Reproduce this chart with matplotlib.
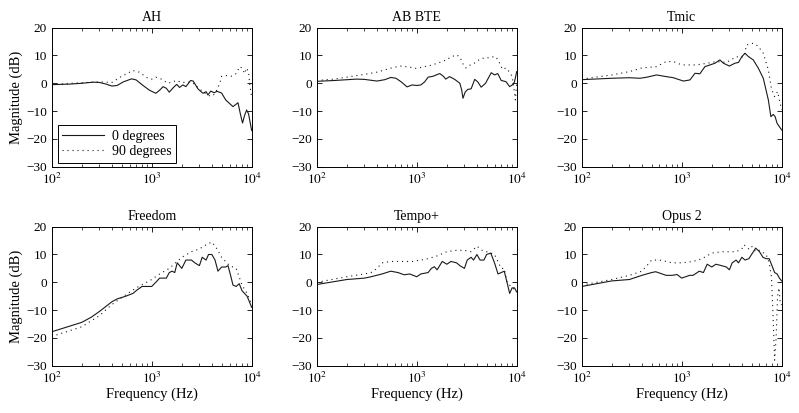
import matplotlib
matplotlib.use("Agg")
import matplotlib.pyplot as plt
from matplotlib.ticker import LogLocator, FixedLocator, NullFormatter

plt.rcParams['font.family'] = ['Liberation Serif', 'DejaVu Serif']
plt.rcParams['mathtext.fontset'] = 'stix'
plt.rcParams['font.size'] = 9.5

titles = ["AH", "AB BTE", "Tmic", "Freedom", "Tempo+", "Opus 2"]
legend_labels = ["0 degrees", "90 degrees"]
x_label = "Frequency (Hz)"
y_label = "Magnitude (dB)"
y_ticks = [-30, -20, -10, 0, 10, 20]
x_ticks = [100, 1000, 10000]
x_tick_labels = [r"$10^{2}$", r"$10^{3}$", r"$10^{4}$"]

# ---- AH ----
ah_f0 = [100, 150, 200, 260, 300, 350, 400, 450, 520, 630, 700, 800, 950, 1100, 1200, 1300,
         1400, 1500, 1650, 1780, 1900, 2050, 2200, 2450, 2600, 2900, 3250, 3500, 3650, 3900,
         4200, 4500, 5000, 5500, 6500, 7300, 7700, 8100, 8500, 8900, 9300, 9700, 10000]
ah_m0 = [-0.5, -0.3, 0.0, 0.4, 0.3, -0.3, -1.0, -0.8, 0.5, 1.6, 1.2, -0.5, -2.5, -3.6, -2.5, -1.2,
         -1.8, -3.2, -1.5, -0.4, -1.5, -0.6, -1.2, 1.0, 0.8, -2.0, -3.6, -3.0, -4.2, -2.8,
         -3.4, -2.9, -3.5, -6.0, -8.4, -7.0, -11.0, -14.3, -11.5, -9.6, -11.0, -14.5, -17.0]
ah_f90 = [100, 200, 300, 400, 500, 650, 750, 900, 1000, 1100, 1250, 1450, 1600, 1800, 2000,
          2300, 2600, 3000, 3400, 3800, 4100, 4400, 4800, 5000, 5500, 6200, 7000, 7600, 8000,
          8500, 8900, 9300, 9600, 10000]
ah_m90 = [-0.4, 0.2, 0.5, 0.3, 2.5, 4.6, 4.0, 2.0, 1.5, 2.2, 1.5, 0.0, 0.5, 1.0, 0.2,
          0.5, 0.0, -2.0, -3.5, -4.5, -4.5, -3.0, 0.0, 2.5, 2.8, 2.5, 3.5, 6.0, 5.5,
          3.5, 5.5, 4.0, -1.0, -5.0]

# ---- AB BTE ----
ab_f0 = [100, 150, 250, 300, 400, 480, 550, 620, 700, 800, 900, 1000, 1100, 1200, 1300, 1450,
         1700, 1850, 1950, 2130, 2400, 2700, 2820, 2900, 3050, 3240, 3500, 3800, 4080, 4410,
         4880, 5560, 6000, 6460, 7000, 7800, 8500, 9100, 9500, 10000]
ab_m0 = [0.7, 1.0, 1.5, 1.4, 0.8, 1.3, 2.1, 1.8, 0.5, -1.3, -0.6, -0.8, -0.6, 0.5, 2.2, 2.5,
         3.5, 2.5, 1.5, 2.4, 1.4, 0.0, -2.5, -5.4, -3.2, -2.2, -2.0, 1.4, 0.5, -1.4,
         0.0, 3.8, 3.0, 3.5, 1.0, 0.6, -1.2, -0.5, 0.5, 4.2]
ab_f90 = [100, 150, 200, 300, 400, 500, 600, 700, 850, 1000, 1200, 1400, 1700, 2000, 2200,
          2500, 2700, 2900, 3100, 3400, 3700, 4000, 4500, 5000, 5500, 6200, 6700, 7200, 7800,
          8500, 9000, 9400, 9700, 10000]
ab_m90 = [1.0, 1.5, 2.2, 3.2, 4.0, 5.0, 5.8, 6.2, 5.8, 5.3, 6.0, 6.5, 7.5, 8.5, 9.5,
          10.2, 9.5, 7.0, 5.5, 6.5, 7.0, 8.0, 9.0, 9.0, 9.5, 9.5, 7.5, 5.0, 5.5,
          4.0, 2.5, -2.0, -6.0, 0.0]

# ---- Tmic ----
tm_f0 = [100, 200, 300, 383, 450, 562, 700, 826, 1040, 1210, 1360, 1520, 1710, 1920, 2150,
         2410, 2620, 3000, 3400, 3700, 4000, 4300, 4650, 5200, 5850, 6550, 7360, 7800, 8250,
         8600, 9000, 10000]
tm_m0 = [1.3, 1.8, 2.0, 1.8, 2.2, 3.0, 2.4, 2.0, 0.8, 1.2, 3.6, 3.4, 6.0, 6.6, 7.2,
         8.4, 7.2, 6.2, 7.2, 7.5, 9.6, 10.8, 9.6, 8.4, 5.4, 1.8, -6.0, -12.0, -11.2,
         -12.0, -14.4, -16.8]
tm_f90 = [100, 200, 300, 400, 560, 700, 830, 1000, 1400, 1800, 2200, 2800, 3500, 4200, 4450,
          5200, 5800, 6550, 7360, 7900, 8500, 9100, 9500, 10000]
tm_m90 = [1.5, 3.0, 4.2, 5.5, 6.0, 7.8, 7.8, 6.6, 6.6, 7.2, 7.8, 7.5, 9.5, 9.5, 13.8,
          14.4, 13.4, 10.8, 4.8, -2.0, -4.8, -3.0, -6.0, -9.6]

# ---- Freedom ----
fr_f0 = [100, 200, 250, 300, 400, 450, 550, 650, 700, 800, 900, 1000, 1100, 1200, 1400, 1500,
         1600, 1700, 1800, 1900, 2000, 2200, 2500, 2700, 3000, 3200, 3500, 3700, 4000, 4300,
         4600, 5000, 5500, 5800, 6200, 6500, 7000, 7500, 8000, 9000, 10000]
fr_m0 = [-17.8, -14.4, -12.5, -10.5, -7.0, -6.0, -5.0, -4.0, -3.0, -1.5, -1.5, -1.5, 0.0, 1.5, 1.5, 3.5,
         4.0, 3.5, 7.0, 6.0, 5.0, 8.0, 8.0, 7.0, 6.0, 9.0, 8.0, 10.0, 10.0, 8.0,
         4.0, 5.5, 5.5, 6.0, 2.0, -1.0, -1.5, -0.5, -3.0, -5.0, -9.0]
fr_f90 = [100, 200, 300, 400, 500, 700, 1000, 1200, 1500, 2000, 2500, 3000, 3500, 4000, 4500,
          5000, 6000, 7000, 8000, 9000, 10000]
fr_m90 = [-19.5, -16.0, -12.0, -8.0, -5.5, -2.0, 1.0, 3.0, 5.0, 9.0, 11.0, 12.0, 13.5, 14.5, 12.0,
          9.0, 6.0, 5.0, -1.0, -4.0, -8.0]

# ---- Tempo+ ----
te_f0 = [100, 200, 300, 350, 450, 550, 650, 750, 850, 1000, 1100, 1300, 1400, 1500, 1600, 1800,
         2000, 2200, 2500, 2700, 3000, 3200, 3500, 3700, 4000, 4300, 4700, 5000, 5500, 6000,
         6500, 7000, 7500, 8000, 8500, 9000, 9500, 10000]
te_m0 = [-0.8, 1.0, 1.5, 2.0, 3.0, 4.0, 3.5, 2.7, 3.0, 2.0, 3.0, 3.5, 5.0, 5.6, 4.5, 7.5,
         6.5, 7.5, 7.0, 6.0, 5.0, 8.0, 9.0, 8.0, 10.0, 8.0, 8.0, 10.0, 10.5, 7.0,
         3.0, 3.5, 4.0, 0.0, -4.0, -2.0, -2.0, -3.5]
te_f90 = [100, 200, 300, 350, 400, 450, 550, 700, 900, 1100, 1300, 1600, 2000, 2500, 3000,
          3500, 4000, 4500, 5000, 6000, 7000, 7500, 8000, 9000, 10000]
te_m90 = [0.0, 2.0, 3.0, 3.5, 5.0, 7.0, 7.5, 7.5, 7.5, 8.0, 8.5, 9.5, 11.0, 11.5, 11.5,
          11.0, 13.0, 11.5, 11.0, 10.0, 5.0, 5.0, 0.0, -2.0, -3.0]

# ---- Opus 2 ----
op_f0 = [100, 200, 300, 400, 500, 550, 700, 800, 900, 1000, 1200, 1300, 1500, 1650, 1800, 2000,
         2200, 2500, 2800, 3000, 3200, 3500, 3700, 4000, 4300, 4700, 5000, 5500, 6000, 6500,
         7000, 7500, 8000, 8500, 9000, 9500, 10000]
op_m0 = [-1.5, 0.5, 1.0, 2.5, 3.5, 3.8, 2.5, 2.5, 2.8, 1.5, 2.5, 2.5, 4.0, 3.5, 6.5, 5.5,
         6.5, 6.0, 5.5, 4.5, 7.0, 8.0, 7.0, 9.0, 8.0, 8.5, 10.0, 12.3, 11.0, 9.0,
         8.5, 8.5, 6.0, 3.5, 3.0, 1.5, 0.5]
op_f90 = [100, 200, 300, 400, 450, 500, 600, 700, 800, 1000, 1300, 1600, 2000, 2500, 3000,
          3500, 4000, 4200, 4700, 5000, 5500, 6000, 7000, 7500, 7900, 8200, 8500, 8800, 9100,
          9400, 9700, 10000]
op_m90 = [-1.0, 1.0, 2.5, 4.0, 6.0, 8.0, 8.0, 7.5, 7.0, 7.0, 7.5, 8.5, 10.5, 11.0, 11.0,
          11.0, 12.0, 13.5, 12.0, 13.0, 11.0, 11.5, 10.0, 7.0, 2.0, -12.0, -28.0, -20.0, -5.0,
          -2.0, -8.0, -8.0]

series = [
    (ah_f0, ah_m0, ah_f90, ah_m90),
    (ab_f0, ab_m0, ab_f90, ab_m90),
    (tm_f0, tm_m0, tm_f90, tm_m90),
    (fr_f0, fr_m0, fr_f90, fr_m90),
    (te_f0, te_m0, te_f90, te_m90),
    (op_f0, op_m0, op_f90, op_m90),
]

fig = plt.figure(figsize=(7.99, 4.13), dpi=100)
lefts = [0.0647, 0.3964, 0.7280]
bottoms = [0.5964, 0.1145]
w, h = 0.2503, 0.3366

for i, (title, (f0, m0, f90, m90)) in enumerate(zip(titles, series)):
    r, c = divmod(i, 3)
    ax = fig.add_axes([lefts[c], bottoms[r], w, h])
    ax.plot(f0, m0, color='#1a1a1a', lw=0.8, label=legend_labels[0])
    ax.plot(f90, m90, color='#1a1a1a', lw=0.8, linestyle=(0, (1, 3.5)),
            label=legend_labels[1])
    ax.set_xscale('log')
    ax.set_xlim(100, 10000)
    ax.set_ylim(-30, 20)
    ax.set_yticks(y_ticks)
    ax.xaxis.set_major_locator(FixedLocator(x_ticks))
    ax.set_xticklabels(x_tick_labels)
    ax.xaxis.set_minor_locator(LogLocator(base=10, subs=range(2, 10)))
    ax.xaxis.set_minor_formatter(NullFormatter())
    ax.tick_params(which='both', direction='in', top=True, right=True, labelsize=9.5)
    ax.tick_params(which='major', length=3.5, width=0.6)
    ax.tick_params(which='minor', length=2, width=0.5)
    for s in ax.spines.values():
        s.set_linewidth(0.7)
    ax.set_title(title, fontsize=10, pad=5)
    if c == 0:
        ax.set_ylabel(y_label, fontsize=10.5, labelpad=2)
    if r == 1:
        ax.set_xlabel(x_label, fontsize=10.5, labelpad=1)
    if i == 0:
        leg = ax.legend(loc='lower left', bbox_to_anchor=(0.03, 0.03), fontsize=10,
                        frameon=True, fancybox=False, edgecolor='black', framealpha=1,
                        handlelength=3.0, borderpad=0.3, labelspacing=0.2,
                        handletextpad=0.6, borderaxespad=0)
        leg.get_frame().set_linewidth(0.7)

fig.savefig("out.png", dpi=100)
